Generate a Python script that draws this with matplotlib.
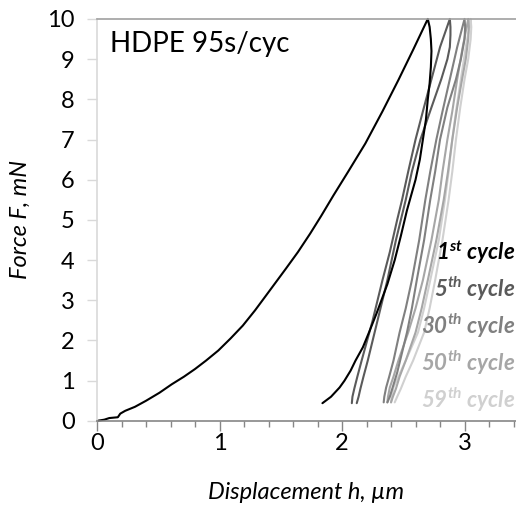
import matplotlib
matplotlib.use('Agg')
import matplotlib.pyplot as plt
from matplotlib.ticker import MultipleLocator

# Font setup (Calibri-like look)
plt.rcParams['font.family'] = ['Lato', 'DejaVu Sans']
plt.rcParams['mathtext.fontset'] = 'custom'
plt.rcParams['mathtext.rm'] = 'Lato:bold:italic'
plt.rcParams['mathtext.it'] = 'Lato:bold:italic'
plt.rcParams['mathtext.bf'] = 'Lato:bold:italic'

# 1st cycle: loading from zero, then unloading
c1_load_f = [0, 0.03, 0.07, 0.09, 0.18, 0.25, 0.35, 0.50, 0.70, 0.91, 1.1, 1.29, 1.5, 1.75, 2.05,
             2.37, 2.75, 3.12, 3.45, 3.78, 4.2, 4.66, 5.1, 5.61, 6.2, 6.9, 7.7, 8.48, 9.23, 10.0]
c1_load_h = [0, 0.06, 0.10, 0.17, 0.19, 0.23, 0.31, 0.40, 0.51, 0.61, 0.71, 0.80, 0.89, 0.99, 1.09,
             1.19, 1.29, 1.38, 1.46, 1.54, 1.64, 1.74, 1.83, 1.93, 2.05, 2.19, 2.33, 2.46, 2.58, 2.70]
c1_unload_f = [10.0, 9.8, 9.5, 9.2, 8.8, 8.4, 8.0, 7.5, 7.0, 6.5, 6.0, 5.24, 4.6, 4.0, 3.4, 2.66,
               2.2, 1.83, 1.5, 1.25, 1.0, 0.83, 0.6, 0.44]
c1_unload_h = [2.70, 2.715, 2.725, 2.73, 2.725, 2.715, 2.70, 2.685, 2.66, 2.635, 2.60, 2.53, 2.48,
               2.43, 2.37, 2.28, 2.22, 2.17, 2.11, 2.07, 2.02, 1.98, 1.91, 1.84]

# 5th cycle
c5_load_f = [0.44, 0.6, 0.8, 1.1, 1.5, 2.0, 2.5, 3.0, 3.5, 4.2, 5.0, 5.5, 6.2, 7.0, 7.7, 8.5, 9.3, 10.0]
c5_load_h = [2.08, 2.085, 2.10, 2.125, 2.16, 2.205, 2.25, 2.29, 2.33, 2.39, 2.45, 2.49, 2.54, 2.60,
             2.66, 2.73, 2.80, 2.88]
c5_unload_f = [10.0, 9.8, 9.6, 9.3, 9.0, 8.5, 7.8, 7.0, 6.2, 5.5, 4.5, 3.5, 3.0, 2.5, 2.0, 1.5, 1.1,
               0.8, 0.6, 0.44]
c5_unload_h = [2.88, 2.885, 2.885, 2.88, 2.86, 2.81, 2.73, 2.64, 2.57, 2.52, 2.44, 2.37, 2.33, 2.29,
               2.25, 2.21, 2.175, 2.15, 2.135, 2.12]

# 30th cycle
c30_load_f = [0.46, 0.6, 0.83, 1.1, 1.5, 2.2, 2.8, 3.5, 4.5, 5.5, 6.2, 7.0, 7.7, 8.5, 9.3, 10.0]
c30_load_h = [2.34, 2.345, 2.36, 2.385, 2.42, 2.47, 2.52, 2.57, 2.63, 2.68, 2.72, 2.77, 2.82, 2.88,
              2.94, 3.00]
c30_unload_f = [10.0, 9.8, 9.5, 9.0, 8.5, 7.8, 7.0, 6.2, 5.5, 4.5, 3.5, 2.8, 2.2, 1.7, 1.2, 0.8, 0.6, 0.46]
c30_unload_h = [3.00, 3.005, 3.00, 2.97, 2.93, 2.86, 2.80, 2.76, 2.72, 2.67, 2.61, 2.57, 2.53, 2.49,
                2.45, 2.41, 2.39, 2.37]

# 50th cycle
c50_load_f = [0.46, 0.6, 0.83, 1.1, 1.5, 2.2, 2.8, 3.5, 4.5, 5.5, 6.2, 7.0, 7.7, 8.5, 9.3, 10.0]
c50_load_h = [2.37, 2.375, 2.39, 2.42, 2.46, 2.54, 2.60, 2.66, 2.73, 2.79, 2.82, 2.86, 2.90, 2.94,
              2.985, 3.03]
c50_unload_f = [10.0, 9.8, 9.5, 9.0, 8.5, 7.8, 7.0, 6.2, 5.5, 4.5, 3.5, 2.8, 2.2, 1.5, 1.1, 0.8, 0.6, 0.46]
c50_unload_h = [3.03, 3.035, 3.03, 3.01, 2.98, 2.94, 2.90, 2.865, 2.83, 2.77, 2.70, 2.65, 2.60, 2.52,
                2.47, 2.44, 2.415, 2.40]

# 59th cycle
c59_load_f = [0.46, 0.6, 0.83, 1.1, 1.5, 2.2, 2.8, 3.5, 4.5, 5.5, 6.2, 7.0, 7.7, 8.5, 9.3, 10.0]
c59_load_h = [2.40, 2.405, 2.42, 2.46, 2.52, 2.62, 2.67, 2.72, 2.79, 2.84, 2.87, 2.90, 2.93, 2.97,
              3.01, 3.05]
c59_unload_f = [10.0, 9.8, 9.5, 9.0, 8.5, 7.8, 7.0, 6.2, 5.5, 4.5, 3.5, 2.8, 2.2, 1.5, 1.1, 0.8, 0.6, 0.46]
c59_unload_h = [3.05, 3.055, 3.05, 3.03, 3.00, 2.965, 2.93, 2.90, 2.87, 2.82, 2.76, 2.715, 2.67, 2.58,
                2.52, 2.48, 2.45, 2.43]

cycle_labels = ['$1^{st}$ cycle', '$5^{th}$ cycle', '$30^{th}$ cycle', '$50^{th}$ cycle', '$59^{th}$ cycle']
cycle_colors = ['#000000', '#5a5a5a', '#808080', '#a6a6a6', '#d0d0d0']
label_f = [4.2, 3.29, 2.36, 1.44, 0.52]

fig = plt.figure(figsize=(5.16, 5.12), dpi=100)
ax = fig.add_axes((0.188, 0.178, 0.812, 0.785))

cycles = [
    (c1_load_h, c1_load_f, c1_unload_h, c1_unload_f),
    (c5_load_h, c5_load_f, c5_unload_h, c5_unload_f),
    (c30_load_h, c30_load_f, c30_unload_h, c30_unload_f),
    (c50_load_h, c50_load_f, c50_unload_h, c50_unload_f),
    (c59_load_h, c59_load_f, c59_unload_h, c59_unload_f),
]

# Draw lightest first so the dark curves sit on top
for (lh, lf, uh, uf), col in reversed(list(zip(cycles, cycle_colors))):
    ax.plot(lh + uh, lf + uf, color=col, lw=1.5, clip_on=False,
            solid_joinstyle='round', solid_capstyle='round')

ax.set_xlim(0, 3.42)
ax.set_ylim(0, 10)

# Spines like the spreadsheet chart
ax.spines['right'].set_visible(False)
ax.spines['top'].set_color('#a0a0a0')
ax.spines['left'].set_color('#d9d9d9')
ax.spines['bottom'].set_color('#868686')
for s in ax.spines.values():
    s.set_linewidth(1.2)

ax.xaxis.set_major_locator(MultipleLocator(1))
ax.xaxis.set_minor_locator(MultipleLocator(0.2))
ax.yaxis.set_major_locator(MultipleLocator(1))
ax.tick_params(axis='x', which='major', direction='out', length=7, width=1, color='#868686',
               labelsize=17, pad=2)
ax.tick_params(axis='x', which='minor', direction='out', length=4, width=1, color='#868686')
ax.tick_params(axis='y', which='major', direction='out', length=7, width=1, color='#d9d9d9',
               labelsize=17, pad=9)

ax.set_xlabel('Displacement h, µm', fontsize=17, fontstyle='italic', labelpad=20)
ax.set_ylabel('Force F, mN', fontsize=17, fontstyle='italic', labelpad=12)

ax.text(0.031, 0.938, 'HDPE 95s/cyc', transform=ax.transAxes, fontsize=20, va='center', ha='left')

for lab, col, f in zip(cycle_labels, cycle_colors, label_f):
    ax.text(0.998, f, lab, transform=ax.get_yaxis_transform(), ha='right', va='center',
            fontsize=16, fontweight='bold', fontstyle='italic', color=col)

fig.savefig('out.png', dpi=100)
